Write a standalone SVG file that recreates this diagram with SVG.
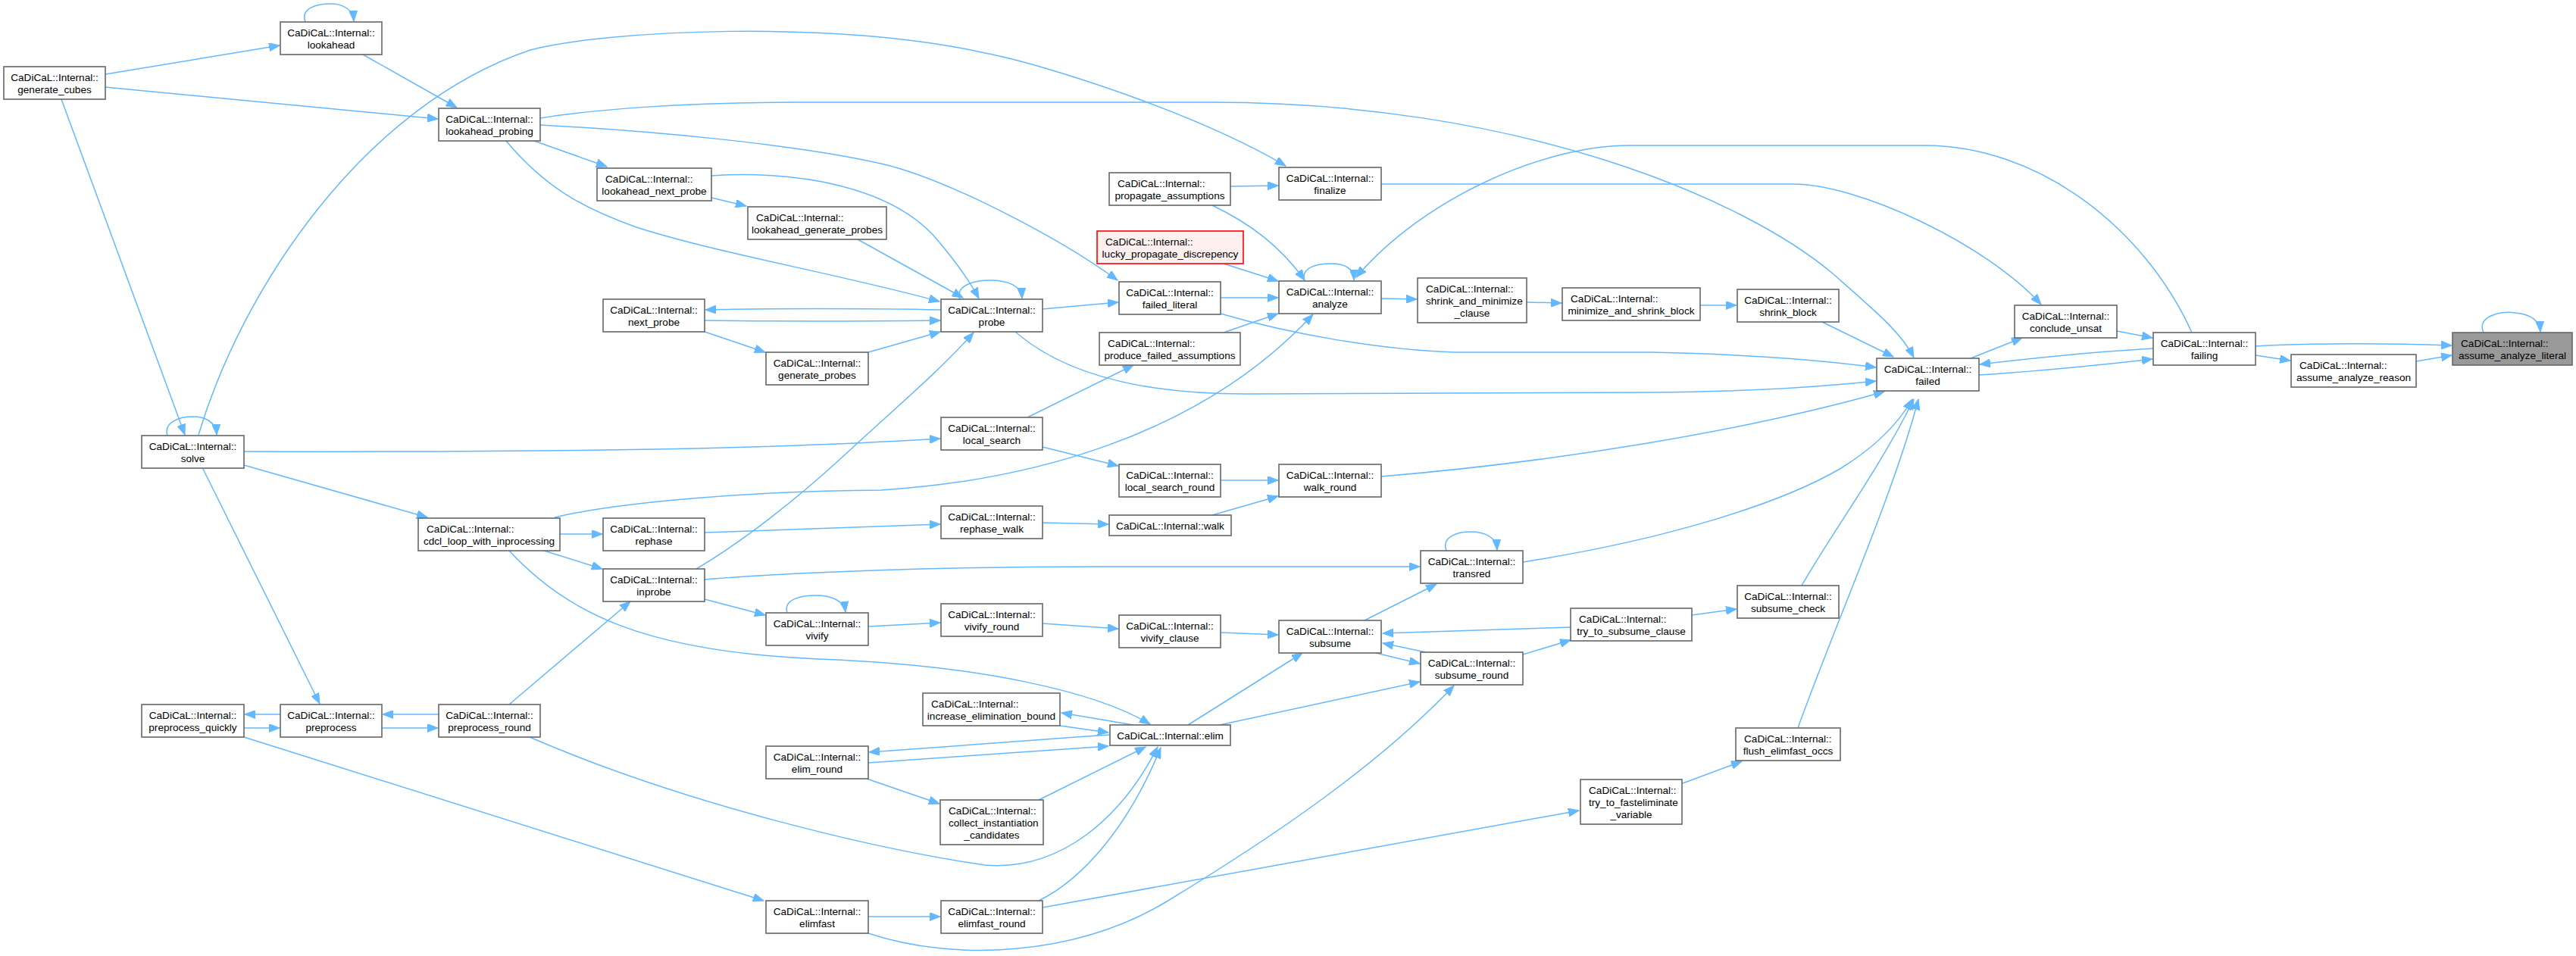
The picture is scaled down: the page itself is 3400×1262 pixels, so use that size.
<svg xmlns="http://www.w3.org/2000/svg" width="3400" height="1262" viewBox="0 0 3400 1262">
<defs>
<style>
.node rect{fill:#ffffff;stroke:#666666;stroke-width:1.6}
.node.root rect{fill:#999999}
.node.warn rect{fill:#fff0f0;stroke:#ff0000}
.node text{font-family:"Liberation Sans",Arial,Helvetica,sans-serif;font-size:13.6px;fill:#000000}
.c{text-anchor:middle}
.s{text-anchor:start}
#edges path{fill:none;stroke:#63b8ff;stroke-width:1.5;marker-end:url(#ah)}
</style>
<marker id="ah" markerUnits="userSpaceOnUse" markerWidth="15" markerHeight="11" refX="14" refY="5.5" orient="auto"><path d="M0,0 L14,5.5 L0,11 z" fill="#63b8ff" stroke="#63b8ff" stroke-width="1"/></marker>
</defs>
<rect width="3400" height="1262" fill="#ffffff"/>
<g id="edges">
<path d="M3278,439 C3268,418 3300,410 3320,413 C3340,415 3352,422 3353,438"/>
<path d="M2977,457 C3050,453 3150,453 3236,456"/>
<path d="M2977,469 L3023,476"/>
<path d="M3189,477 L3236,469"/>
<path d="M2794,437 L2841,446"/>
<path d="M2601,473 L2669,446"/>
<path d="M2842,460 C2770,464 2690,472 2613,481"/>
<path d="M2612,495 C2690,490 2770,482 2841,474"/>
<path d="M2893,439 C2830,300 2690,192 2540,192 L2150,192 C2040,192 1880,260 1790,366"/>
<path d="M1823,243 L2368,243 C2450,243 2620,320 2694,402"/>
<path d="M262,574 C320,380 480,140 700,66 C800,40 1100,25 1300,70 C1380,85 1580,150 1697,219"/>
<path d="M713,156 C780,145 900,135 1050,135 L1600,135 C2000,135 2300,260 2420,362 C2480,415 2510,440 2526,472"/>
<path d="M713,165 C850,172 1050,190 1163,216 C1250,236 1400,315 1475,370"/>
<path d="M705,186 L801,220"/>
<path d="M668,186 C720,248 770,275 840,300 C950,335 1100,360 1240,398"/>
<path d="M139,98 L369,60"/>
<path d="M139,115 L578,157"/>
<path d="M479,72 L603,142"/>
<path d="M81,131 L244,574"/>
<path d="M221,575 C215,556 240,550 254,550 C270,550 285,556 286,574"/>
<path d="M403,29 C396,10 420,5 436,5 C452,5 466,12 467,28"/>
<path d="M322,614 L564,683"/>
<path d="M267,617 L422,929"/>
<path d="M322,596 C700,597 1000,594 1241,579"/>
<path d="M739,705 L795,705"/>
<path d="M718,727 L795,751"/>
<path d="M732,683 C820,662 1000,648 1163,647 C1350,635 1580,580 1733,415"/>
<path d="M672,727 C750,810 850,860 1080,870 C1300,878 1450,915 1518,956"/>
<path d="M370,943 L323,943"/>
<path d="M322,961 L369,961"/>
<path d="M579,943 L505,943"/>
<path d="M504,961 L578,961"/>
<path d="M672,930 L832,794"/>
<path d="M699,973 C900,1060 1150,1120 1300,1142 C1400,1150 1480,1080 1528,986"/>
<path d="M322,973 L1008,1189"/>
<path d="M939,261 L985,272"/>
<path d="M939,232 C1050,225 1180,245 1240,320 C1265,350 1282,375 1292,394"/>
<path d="M1132,316 L1271,393"/>
<path d="M1267,395 C1260,375 1290,370 1307,370 C1330,370 1348,377 1349,394"/>
<path d="M1242,409 C1150,407 1000,407 931,409"/>
<path d="M930,423 C1000,424 1150,424 1241,423"/>
<path d="M930,438 L1010,465"/>
<path d="M1146,465 L1241,438"/>
<path d="M1376,408 L1476,399"/>
<path d="M1340,438 C1400,490 1500,521 1650,520 L2180,518 C2320,517 2410,510 2476,503"/>
<path d="M1611,393 L1687,393"/>
<path d="M1611,414 C1700,440 1820,462 1920,465 L2180,465 C2320,468 2410,476 2476,485"/>
<path d="M1624,246 L1687,245"/>
<path d="M1600,271 C1650,295 1690,325 1722,370"/>
<path d="M1615,348 L1687,371"/>
<path d="M1615,439 L1687,414"/>
<path d="M1356,551 L1496,482"/>
<path d="M1376,590 L1476,615"/>
<path d="M919,751 C980,715 1050,660 1110,605 C1180,540 1240,490 1285,439"/>
<path d="M1611,634 L1687,634"/>
<path d="M1600,680 L1687,655"/>
<path d="M930,703 L1241,692"/>
<path d="M1376,690 L1463,692"/>
<path d="M930,765 C1050,755 1250,748 1450,748 L1874,748"/>
<path d="M930,791 L1010,812"/>
<path d="M1039,809 C1033,790 1060,786 1077,786 C1095,786 1114,792 1116,808"/>
<path d="M1146,827 L1241,822"/>
<path d="M1376,823 L1476,830"/>
<path d="M1611,835 L1687,838"/>
<path d="M1496,957 L1401,941"/>
<path d="M1399,958 L1463,967"/>
<path d="M1465,970 C1350,978 1230,986 1147,993"/>
<path d="M1146,1007 C1250,1000 1380,990 1463,985"/>
<path d="M1144,1028 L1240,1061"/>
<path d="M1371,1056 L1512,986"/>
<path d="M1146,1210 L1241,1210"/>
<path d="M1371,1189 C1430,1160 1490,1090 1532,987"/>
<path d="M1376,1198 L2084,1070"/>
<path d="M1146,1232 C1260,1270 1420,1262 1540,1190 C1680,1105 1820,1010 1919,905"/>
<path d="M1568,957 L1719,862"/>
<path d="M1610,957 L1874,900"/>
<path d="M1722,371 C1716,352 1740,348 1757,348 C1775,348 1787,354 1787,370"/>
<path d="M1823,394 L1870,395"/>
<path d="M2015,399 L2061,400"/>
<path d="M2244,403 L2292,403"/>
<path d="M2405,425 L2499,471"/>
<path d="M1823,629 C2050,610 2300,570 2487,517"/>
<path d="M2010,742 C2200,712 2350,665 2430,618 C2475,590 2505,560 2524,527"/>
<path d="M2378,773 C2420,700 2480,620 2526,527"/>
<path d="M2373,961 C2420,830 2500,650 2532,527"/>
<path d="M1801,819 L1896,771"/>
<path d="M1909,727 C1902,708 1925,702 1941,702 C1960,702 1975,709 1976,726"/>
<path d="M2073,828 L1825,836"/>
<path d="M1882,861 L1825,849"/>
<path d="M1816,862 L1874,876"/>
<path d="M2010,864 L2073,845"/>
<path d="M2233,812 L2292,804"/>
<path d="M2221,1034 L2299,1005"/>
</g>
<g id="n_generate_cubes" class="node"><rect x="5" y="88" width="134" height="43"/><text class="c" x="72" y="107">CaDiCaL::Internal::</text><text class="c" x="72" y="123">generate_cubes</text></g>
<g id="n_lookahead" class="node"><rect x="370" y="29" width="134" height="43"/><text class="c" x="437" y="48">CaDiCaL::Internal::</text><text class="c" x="437" y="64">lookahead</text></g>
<g id="n_lookahead_probing" class="node"><rect x="579" y="143" width="134" height="43"/><text class="c" x="646" y="162">CaDiCaL::Internal::</text><text class="c" x="646" y="178">lookahead_probing</text></g>
<g id="n_solve" class="node"><rect x="187" y="575" width="135" height="43"/><text class="c" x="254.5" y="594">CaDiCaL::Internal::</text><text class="c" x="254.5" y="610">solve</text></g>
<g id="n_cdcl_loop_with_inprocessing" class="node"><rect x="552" y="684" width="187" height="43"/><text class="s" x="563" y="703">CaDiCaL::Internal::</text><text class="c" x="645.5" y="719">cdcl_loop_with_inprocessing</text></g>
<g id="n_preprocess_quickly" class="node"><rect x="187" y="930" width="135" height="43"/><text class="c" x="254.5" y="949">CaDiCaL::Internal::</text><text class="c" x="254.5" y="965">preprocess_quickly</text></g>
<g id="n_preprocess" class="node"><rect x="370" y="930" width="134" height="43"/><text class="c" x="437" y="949">CaDiCaL::Internal::</text><text class="c" x="437" y="965">preprocess</text></g>
<g id="n_preprocess_round" class="node"><rect x="579" y="930" width="134" height="43"/><text class="c" x="646" y="949">CaDiCaL::Internal::</text><text class="c" x="646" y="965">preprocess_round</text></g>
<g id="n_lookahead_next_probe" class="node"><rect x="788" y="222" width="151" height="43"/><text class="s" x="799" y="241">CaDiCaL::Internal::</text><text class="c" x="863.5" y="257">lookahead_next_probe</text></g>
<g id="n_next_probe" class="node"><rect x="796" y="395" width="134" height="43"/><text class="c" x="863" y="414">CaDiCaL::Internal::</text><text class="c" x="863" y="430">next_probe</text></g>
<g id="n_rephase" class="node"><rect x="796" y="684" width="134" height="43"/><text class="c" x="863" y="703">CaDiCaL::Internal::</text><text class="c" x="863" y="719">rephase</text></g>
<g id="n_inprobe" class="node"><rect x="796" y="751" width="134" height="43"/><text class="c" x="863" y="770">CaDiCaL::Internal::</text><text class="c" x="863" y="786">inprobe</text></g>
<g id="n_lookahead_generate_probes" class="node"><rect x="987" y="273" width="183" height="43"/><text class="s" x="998" y="292">CaDiCaL::Internal::</text><text class="c" x="1078.5" y="308">lookahead_generate_probes</text></g>
<g id="n_generate_probes" class="node"><rect x="1011" y="465" width="135" height="43"/><text class="c" x="1078.5" y="484">CaDiCaL::Internal::</text><text class="c" x="1078.5" y="500">generate_probes</text></g>
<g id="n_vivify" class="node"><rect x="1011" y="809" width="135" height="43"/><text class="c" x="1078.5" y="828">CaDiCaL::Internal::</text><text class="c" x="1078.5" y="844">vivify</text></g>
<g id="n_elim_round" class="node"><rect x="1011" y="985" width="135" height="43"/><text class="c" x="1078.5" y="1004">CaDiCaL::Internal::</text><text class="c" x="1078.5" y="1020">elim_round</text></g>
<g id="n_elimfast" class="node"><rect x="1011" y="1189" width="135" height="43"/><text class="c" x="1078.5" y="1208">CaDiCaL::Internal::</text><text class="c" x="1078.5" y="1224">elimfast</text></g>
<g id="n_probe" class="node"><rect x="1242" y="395" width="134" height="43"/><text class="c" x="1309" y="414">CaDiCaL::Internal::</text><text class="c" x="1309" y="430">probe</text></g>
<g id="n_local_search" class="node"><rect x="1242" y="551" width="134" height="43"/><text class="c" x="1309" y="570">CaDiCaL::Internal::</text><text class="c" x="1309" y="586">local_search</text></g>
<g id="n_rephase_walk" class="node"><rect x="1242" y="668" width="134" height="43"/><text class="c" x="1309" y="687">CaDiCaL::Internal::</text><text class="c" x="1309" y="703">rephase_walk</text></g>
<g id="n_vivify_round" class="node"><rect x="1242" y="797" width="134" height="43"/><text class="c" x="1309" y="816">CaDiCaL::Internal::</text><text class="c" x="1309" y="832">vivify_round</text></g>
<g id="n_increase_elimination_bound" class="node"><rect x="1218" y="915" width="181" height="43"/><text class="s" x="1229" y="934">CaDiCaL::Internal::</text><text class="c" x="1308.5" y="950">increase_elimination_bound</text></g>
<g id="n_collect_instantiation_candidates" class="node"><rect x="1241" y="1056" width="136" height="59"/><text class="s" x="1252" y="1075">CaDiCaL::Internal::</text><text class="s" x="1252" y="1091">collect_instantiation</text><text class="c" x="1309" y="1107">_candidates</text></g>
<g id="n_elimfast_round" class="node"><rect x="1242" y="1189" width="134" height="43"/><text class="c" x="1309" y="1208">CaDiCaL::Internal::</text><text class="c" x="1309" y="1224">elimfast_round</text></g>
<g id="n_propagate_assumptions" class="node"><rect x="1464" y="228" width="160" height="43"/><text class="s" x="1475" y="247">CaDiCaL::Internal::</text><text class="c" x="1544" y="263">propagate_assumptions</text></g>
<g id="n_lucky_propagate_discrepency" class="node warn"><rect x="1448" y="305" width="193" height="43"/><text class="s" x="1459" y="324">CaDiCaL::Internal::</text><text class="c" x="1544.5" y="340">lucky_propagate_discrepency</text></g>
<g id="n_failed_literal" class="node"><rect x="1477" y="372" width="134" height="43"/><text class="c" x="1544" y="391">CaDiCaL::Internal::</text><text class="c" x="1544" y="407">failed_literal</text></g>
<g id="n_produce_failed_assumptions" class="node"><rect x="1451" y="439" width="186" height="43"/><text class="s" x="1462" y="458">CaDiCaL::Internal::</text><text class="c" x="1544" y="474">produce_failed_assumptions</text></g>
<g id="n_local_search_round" class="node"><rect x="1477" y="613" width="134" height="43"/><text class="c" x="1544" y="632">CaDiCaL::Internal::</text><text class="c" x="1544" y="648">local_search_round</text></g>
<g id="n_walk" class="node"><rect x="1464" y="680" width="161" height="27"/><text class="c" x="1544.5" y="699">CaDiCaL::Internal::walk</text></g>
<g id="n_vivify_clause" class="node"><rect x="1477" y="812" width="134" height="43"/><text class="c" x="1544" y="831">CaDiCaL::Internal::</text><text class="c" x="1544" y="847">vivify_clause</text></g>
<g id="n_elim" class="node"><rect x="1465" y="957" width="159" height="27"/><text class="c" x="1544.5" y="976">CaDiCaL::Internal::elim</text></g>
<g id="n_finalize" class="node"><rect x="1688" y="221" width="135" height="43"/><text class="c" x="1755.5" y="240">CaDiCaL::Internal::</text><text class="c" x="1755.5" y="256">finalize</text></g>
<g id="n_analyze" class="node"><rect x="1688" y="371" width="135" height="43"/><text class="c" x="1755.5" y="390">CaDiCaL::Internal::</text><text class="c" x="1755.5" y="406">analyze</text></g>
<g id="n_walk_round" class="node"><rect x="1688" y="613" width="135" height="43"/><text class="c" x="1755.5" y="632">CaDiCaL::Internal::</text><text class="c" x="1755.5" y="648">walk_round</text></g>
<g id="n_subsume" class="node"><rect x="1688" y="819" width="135" height="43"/><text class="c" x="1755.5" y="838">CaDiCaL::Internal::</text><text class="c" x="1755.5" y="854">subsume</text></g>
<g id="n_shrink_and_minimize_clause" class="node"><rect x="1871" y="367" width="144" height="59"/><text class="s" x="1882" y="386">CaDiCaL::Internal::</text><text class="s" x="1882" y="402">shrink_and_minimize</text><text class="c" x="1943" y="418">_clause</text></g>
<g id="n_transred" class="node"><rect x="1875" y="727" width="135" height="43"/><text class="c" x="1942.5" y="746">CaDiCaL::Internal::</text><text class="c" x="1942.5" y="762">transred</text></g>
<g id="n_subsume_round" class="node"><rect x="1875" y="861" width="135" height="43"/><text class="c" x="1942.5" y="880">CaDiCaL::Internal::</text><text class="c" x="1942.5" y="896">subsume_round</text></g>
<g id="n_minimize_and_shrink_block" class="node"><rect x="2062" y="380" width="182" height="43"/><text class="s" x="2073" y="399">CaDiCaL::Internal::</text><text class="c" x="2153" y="415">minimize_and_shrink_block</text></g>
<g id="n_try_to_subsume_clause" class="node"><rect x="2073" y="803" width="160" height="43"/><text class="s" x="2084" y="822">CaDiCaL::Internal::</text><text class="c" x="2153" y="838">try_to_subsume_clause</text></g>
<g id="n_try_to_fasteliminate_variable" class="node"><rect x="2086" y="1029" width="134" height="59"/><text class="s" x="2097" y="1048">CaDiCaL::Internal::</text><text class="s" x="2097" y="1064">try_to_fasteliminate</text><text class="c" x="2153" y="1080">_variable</text></g>
<g id="n_shrink_block" class="node"><rect x="2293" y="382" width="134" height="43"/><text class="c" x="2360" y="401">CaDiCaL::Internal::</text><text class="c" x="2360" y="417">shrink_block</text></g>
<g id="n_subsume_check" class="node"><rect x="2293" y="773" width="134" height="43"/><text class="c" x="2360" y="792">CaDiCaL::Internal::</text><text class="c" x="2360" y="808">subsume_check</text></g>
<g id="n_flush_elimfast_occs" class="node"><rect x="2291" y="961" width="138" height="43"/><text class="s" x="2302" y="980">CaDiCaL::Internal::</text><text class="c" x="2360" y="996">flush_elimfast_occs</text></g>
<g id="n_failed" class="node"><rect x="2477" y="473" width="135" height="43"/><text class="c" x="2544.5" y="492">CaDiCaL::Internal::</text><text class="c" x="2544.5" y="508">failed</text></g>
<g id="n_conclude_unsat" class="node"><rect x="2659" y="403" width="135" height="43"/><text class="c" x="2726.5" y="422">CaDiCaL::Internal::</text><text class="c" x="2726.5" y="438">conclude_unsat</text></g>
<g id="n_failing" class="node"><rect x="2842" y="439" width="135" height="43"/><text class="c" x="2909.5" y="458">CaDiCaL::Internal::</text><text class="c" x="2909.5" y="474">failing</text></g>
<g id="n_assume_analyze_reason" class="node"><rect x="3024" y="468" width="165" height="43"/><text class="s" x="3035" y="487">CaDiCaL::Internal::</text><text class="c" x="3106.5" y="503">assume_analyze_reason</text></g>
<g id="n_assume_analyze_literal" class="node root"><rect x="3237" y="439" width="158" height="43"/><text class="s" x="3248" y="458">CaDiCaL::Internal::</text><text class="c" x="3316" y="474">assume_analyze_literal</text></g>
</svg>
